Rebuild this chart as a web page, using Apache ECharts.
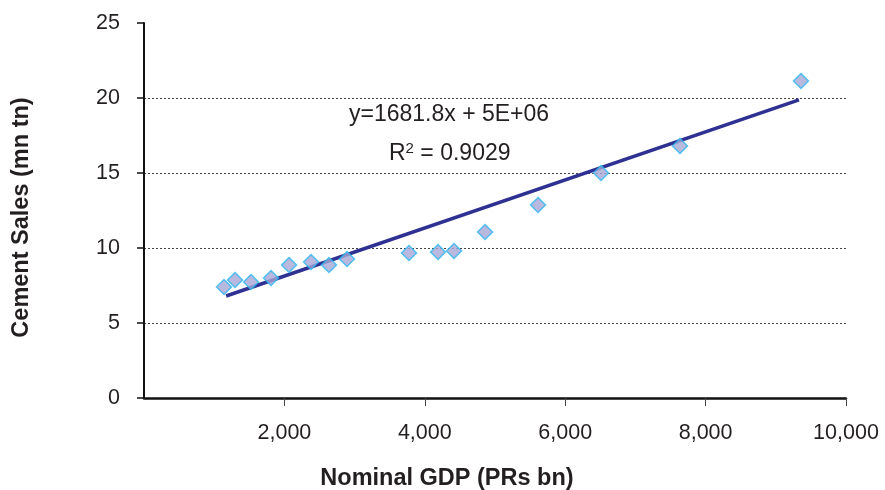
<!DOCTYPE html>
<html>
<head>
<meta charset="utf-8">
<script src="https://cdn.jsdelivr.net/npm/echarts@6/dist/echarts.min.js"></script>
<style>html,body{margin:0;padding:0;background:#fff}#c{width:885px;height:490px}</style>
</head>
<body>
<div id="c"></div>
<script>
// Nominal GDP (PRs bn)
const gdp = [1140, 1296, 1524, 1809, 2066, 2379, 2635, 2892, 3775, 4188, 4416, 4858, 5613, 6510, 7635, 9359];
// Cement sales (mn tn)
const cement = [7.4, 7.87, 7.73, 8.0, 8.87, 9.07, 8.87, 9.27, 9.67, 9.73, 9.8, 11.07, 12.87, 15.0, 16.8, 21.13];
// Linear trendline end points
const trendX = [1170, 9330];
const trendY = [6.8, 19.87];
const eqText = 'y=1681.8x + 5E+06';
const r2Value = '0.9029';
const xTitle = 'Nominal GDP (PRs bn)';
const yTitle = 'Cement Sales (mn tn)';

const chart = echarts.init(document.getElementById('c'), null, {renderer: 'canvas'});
const font = 'Liberation Sans, Arial, Helvetica, sans-serif';
chart.setOption({
  animation: false,
  backgroundColor: '#fff',
  grid: {left: 144, right: 39, top: 23, bottom: 92, outerBoundsMode: 'none', containLabel: false},
  xAxis: {
    type: 'value', min: 0, max: 10000, interval: 2000,
    name: xTitle, nameLocation: 'middle', nameGap: 69,
    nameTextStyle: {fontFamily: font, fontSize: 23.5, fontWeight: 'bold', color: '#231f20', padding: [0, 96, 0, 0]},
    axisLine: {show: true, onZero: false, lineStyle: {color: '#111', width: 2.5}},
    axisTick: {show: true, inside: false, length: 8, lineStyle: {color: '#444', width: 1}},
    axisLabel: {showMinLabel: false, fontFamily: font, fontSize: 21.5, color: '#231f20', margin: 24,
      formatter: v => v.toLocaleString('en-US')},
    splitLine: {show: false}
  },
  yAxis: {
    type: 'value', min: 0, max: 25, interval: 5,
    name: yTitle, nameLocation: 'middle', nameGap: 110, nameRotate: 90,
    nameTextStyle: {fontFamily: font, fontSize: 23.5, fontWeight: 'bold', color: '#231f20', padding: [0, 14, 0, 0]},
    axisLine: {show: true, lineStyle: {color: '#111', width: 2}},
    axisTick: {show: true, inside: false, length: 7, lineStyle: {color: '#111', width: 1.5}},
    axisLabel: {fontFamily: font, fontSize: 21.5, color: '#231f20', margin: 24, padding: [7, 0, 0, 0]},
    splitLine: {show: true, showMinLine: false, showMaxLine: false,
      lineStyle: {color: '#444', width: 1, type: [2, 2]}}
  },
  series: [
    {
      type: 'line',
      data: trendX.map((x, i) => [x, trendY[i]]),
      showSymbol: false, symbol: 'none',
      lineStyle: {color: '#2E3192', width: 3.5},
      z: 2, silent: true
    },
    {
      type: 'scatter',
      data: gdp.map((x, i) => [x, cement[i]]),
      symbol: 'diamond', symbolSize: [15, 15],
      itemStyle: {color: '#A8A6D6', borderColor: '#2CB8F0', borderWidth: 1.5},
      z: 3
    }
  ],
  graphic: [
    {
      type: 'text', left: 349, top: 103,
      style: {text: eqText, font: '23px ' + font, fill: '#231f20'}
    },
    {
      type: 'text', left: 389, top: 141,
      style: {
        text: 'R{sup|2} = ' + r2Value,
        font: '23px ' + font, fill: '#231f20',
        rich: {sup: {fontSize: 15, fontFamily: font, verticalAlign: 'top', padding: [0, 0, 10, 0], fill: '#231f20'}}
      }
    }
  ]
});
</script>
</body>
</html>
